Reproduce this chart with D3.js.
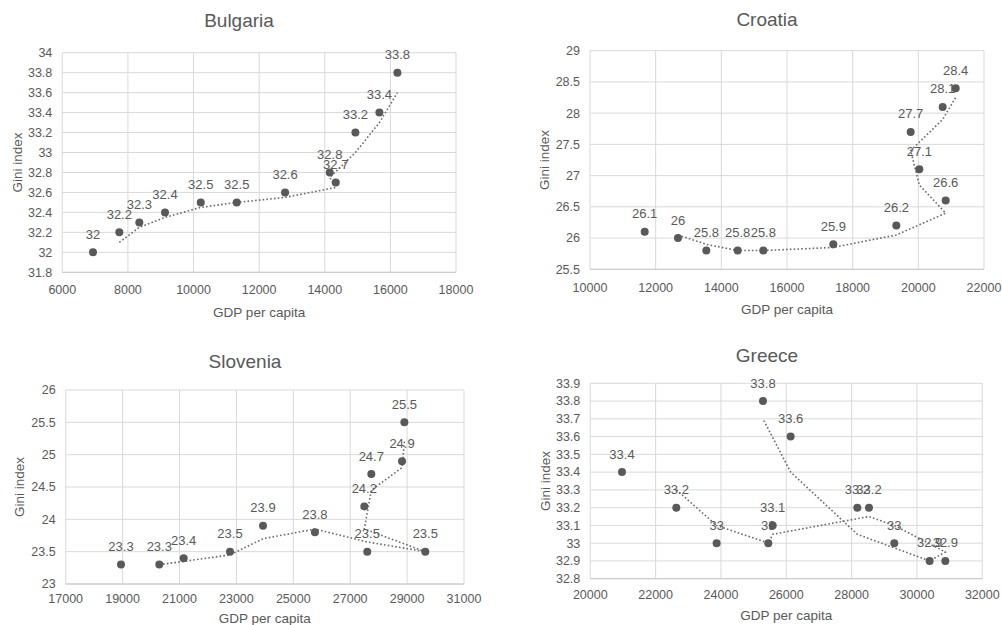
<!DOCTYPE html>
<html>
<head>
<meta charset="utf-8">
<script src="https://cdn.jsdelivr.net/npm/d3@7"></script>
<style>
  html, body { margin: 0; padding: 0; background: #fff; }
  svg { display: block; }
  text { font-family: "Liberation Sans", Arial, sans-serif; fill: #595959; }
</style>
</head>
<body>
<svg id="chart" width="1002" height="625"></svg>
<script>
// GDP per capita vs Gini index, one series per country, in chronological order
const bulgariaGdp  = [6936, 7738, 8348, 9131, 10220, 11317, 12790, 14335, 14152, 14934, 15665, 16214];
const bulgariaGini = [32, 32.2, 32.3, 32.4, 32.5, 32.5, 32.6, 32.7, 32.8, 33.2, 33.4, 33.8];

const croatiaGdp  = [11666, 12680, 13543, 14498, 15279, 17411, 19330, 20833, 20030, 19767, 20741, 21137];
const croatiaGini = [26.1, 26, 25.8, 25.8, 25.8, 25.9, 26.2, 26.6, 27.1, 27.7, 28.1, 28.4];

const sloveniaGdp  = [18944, 20290, 21147, 22775, 23935, 25760, 27600, 29640, 27496, 27742, 28822, 28904];
const sloveniaGini = [23.3, 23.3, 23.4, 23.5, 23.9, 23.8, 23.5, 23.5, 24.2, 24.7, 24.9, 25.5];

const greeceGdp  = [20970, 22633, 23868, 25449, 25584, 28531, 29306, 30868, 30388, 28174, 26133, 25286];
const greeceGini = [33.4, 33.2, 33.0, 33.0, 33.1, 33.2, 33.0, 32.9, 32.9, 33.2, 33.6, 33.8];

// Axis ticks
const bulgariaXTicks = [6000, 8000, 10000, 12000, 14000, 16000, 18000];
const bulgariaYTicks = [31.8, 32, 32.2, 32.4, 32.6, 32.8, 33, 33.2, 33.4, 33.6, 33.8, 34];
const croatiaXTicks  = [10000, 12000, 14000, 16000, 18000, 20000, 22000];
const croatiaYTicks  = [25.5, 26, 26.5, 27, 27.5, 28, 28.5, 29];
const sloveniaXTicks = [17000, 19000, 21000, 23000, 25000, 27000, 29000, 31000];
const sloveniaYTicks = [23, 23.5, 24, 24.5, 25, 25.5, 26];
const greeceXTicks   = [20000, 22000, 24000, 26000, 28000, 30000, 32000];
const greeceYTicks   = [32.8, 32.9, 33, 33.1, 33.2, 33.3, 33.4, 33.5, 33.6, 33.7, 33.8, 33.9];

const panels = [
  { title: "Bulgaria", gdp: bulgariaGdp, gini: bulgariaGini, xTicks: bulgariaXTicks, yTicks: bulgariaYTicks,
    box: { left: 62.3, right: 456, top: 52.7, bottom: 272.3 },
    titleX: 239, titleY: 27, xTickY: 294, xTitleY: 317, yTitleX: 22 },
  { title: "Croatia", gdp: croatiaGdp, gini: croatiaGini, xTicks: croatiaXTicks, yTicks: croatiaYTicks,
    box: { left: 590, right: 984, top: 50.7, bottom: 269.3 },
    titleX: 767, titleY: 26, xTickY: 292, xTitleY: 313.5, yTitleX: 549 },
  { title: "Slovenia", gdp: sloveniaGdp, gini: sloveniaGini, xTicks: sloveniaXTicks, yTicks: sloveniaYTicks,
    box: { left: 65.7, right: 464, top: 390, bottom: 584 },
    titleX: 245, titleY: 368, xTickY: 603, xTitleY: 622.5, yTitleX: 24 },
  { title: "Greece", gdp: greeceGdp, gini: greeceGini, xTicks: greeceXTicks, yTicks: greeceYTicks,
    box: { left: 590.3, right: 982.3, top: 383.3, bottom: 578.7 },
    titleX: 767, titleY: 361.5, xTickY: 599, xTitleY: 619.5, yTitleX: 550 }
];

const svg = d3.select("#chart");
svg.append("rect").attr("width", 1002).attr("height", 625).attr("fill", "#fff");

const fmt = v => String(+v.toFixed(2));

function drawPanel(p) {
  const b = p.box;
  const x = d3.scaleLinear().domain(d3.extent(p.xTicks)).range([b.left, b.right]);
  const y = d3.scaleLinear().domain(d3.extent(p.yTicks)).range([b.bottom, b.top]);
  const g = svg.append("g");

  // gridlines
  g.append("g").selectAll("line").data(p.yTicks).join("line")
    .attr("x1", b.left).attr("x2", b.right)
    .attr("y1", d => y(d)).attr("y2", d => y(d))
    .attr("stroke", "#d9d9d9").attr("stroke-width", 1);
  g.append("g").selectAll("line").data(p.xTicks).join("line")
    .attr("x1", d => x(d)).attr("x2", d => x(d))
    .attr("y1", b.top).attr("y2", b.bottom)
    .attr("stroke", "#d9d9d9").attr("stroke-width", 1);
  // horizontal axis line
  g.append("line").attr("x1", b.left).attr("x2", b.right)
    .attr("y1", b.bottom).attr("y2", b.bottom)
    .attr("stroke", "#c8c8c8").attr("stroke-width", 1);

  // tick labels
  g.append("g").selectAll("text").data(p.yTicks).join("text")
    .attr("x", b.left - 10).attr("y", d => y(d)).attr("dy", "0.35em")
    .attr("text-anchor", "end").style("font-size", "12.5px")
    .text(fmt);
  g.append("g").selectAll("text").data(p.xTicks).join("text")
    .attr("x", d => x(d)).attr("y", p.xTickY)
    .attr("text-anchor", "middle").style("font-size", "12.5px")
    .text(fmt);

  // titles
  g.append("text").attr("x", p.titleX).attr("y", p.titleY)
    .attr("text-anchor", "middle").style("font-size", "19px").text(p.title);
  g.append("text").attr("x", (b.left + b.right) / 2).attr("y", p.xTitleY)
    .attr("text-anchor", "middle").style("font-size", "13.5px").text("GDP per capita");
  g.append("text")
    .attr("transform", `translate(${p.yTitleX},${(b.top + b.bottom) / 2}) rotate(-90)`)
    .attr("text-anchor", "middle").style("font-size", "13.5px").text("Gini index");

  const pts = p.gdp.map((v, i) => ({ gdp: v, gini: p.gini[i] }));

  // two-period moving average trendline, taken in series order
  const trend = pts.slice(1).map((d, i) => ({ gdp: d.gdp, gini: (pts[i].gini + d.gini) / 2 }));
  g.append("path").datum(trend)
    .attr("fill", "none").attr("stroke", "#6a6a6a").attr("stroke-width", 1.6)
    .attr("stroke-dasharray", "1.6 2.2")
    .attr("d", d3.line().x(d => x(d.gdp)).y(d => y(d.gini)));

  // markers
  g.append("g").selectAll("circle").data(pts).join("circle")
    .attr("cx", d => x(d.gdp)).attr("cy", d => y(d.gini)).attr("r", 4)
    .attr("fill", "#595959");

  // value labels
  g.append("g").selectAll("text").data(pts).join("text")
    .attr("x", d => x(d.gdp)).attr("y", d => y(d.gini) - 13.5)
    .attr("text-anchor", "middle").style("font-size", "13px")
    .text(d => fmt(d.gini));
}

panels.forEach(drawPanel);
</script>
</body>
</html>
